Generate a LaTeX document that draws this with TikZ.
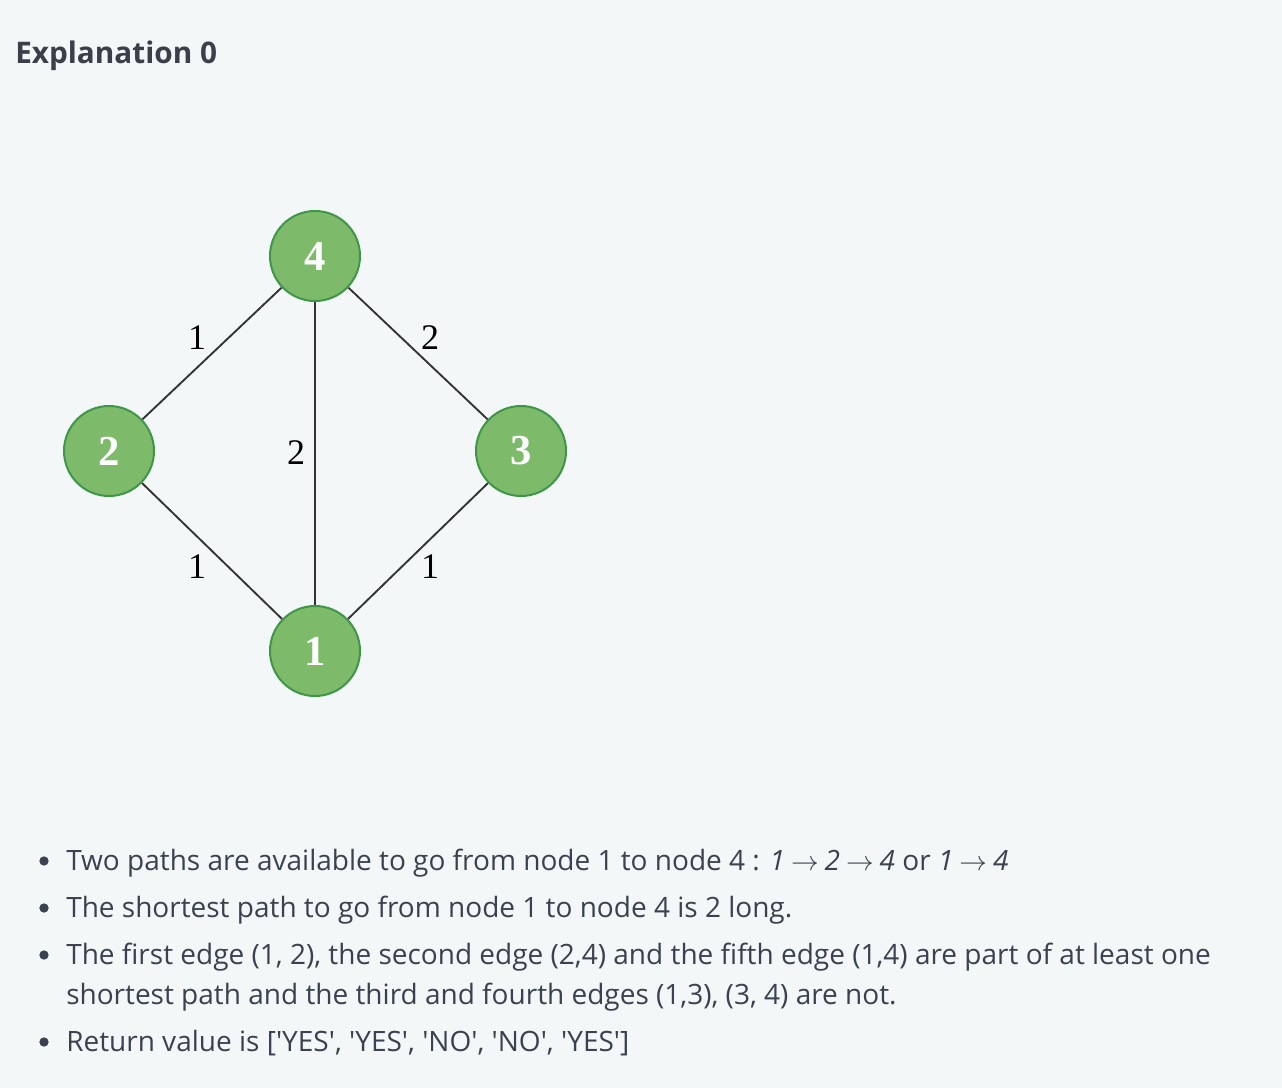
\documentclass[tikz,border=0pt]{standalone}
\usepackage{fontspec}
\setmainfont{Open Sans}
\newfontfamily\serifgraph{Liberation Serif}
\definecolor{bgc}{HTML}{F3F7F8}
\definecolor{titlec}{HTML}{3A3F4A}
\definecolor{txtc}{HTML}{39424E}
\definecolor{nodefill}{HTML}{7DBB6A}
\definecolor{nodedraw}{HTML}{3E9648}
\definecolor{edgec}{HTML}{333333}
\newcommand{\sq}{\textquotesingle}
\newcommand{\myarr}{\hspace{4.5pt}$\rightarrow$\hspace{4.5pt}}
\tikzset{
  gnode/.style={circle, minimum size=67.5pt, inner sep=0pt, fill=nodefill, draw=nodedraw, line width=1.5pt, text=white, font=\serifgraph\bfseries\fontsize{32}{32}\selectfont},
  gedge/.style={draw=edgec, line width=1.4pt},
  elabel/.style={text=black, font=\serifgraph\fontsize{27}{27}\selectfont, inner sep=0pt},
  bodytext/.style={anchor=base west, inner sep=0pt, text=txtc, font=\fontsize{21}{21}\selectfont},
  bulletdot/.style={circle, fill=txtc, inner sep=0pt, minimum size=7pt}
}
\begin{document}
\begin{tikzpicture}[x=0.75pt,y=-0.75pt]
\fill[bgc] (0,0) rectangle (1282,1088);
\useasboundingbox (0,0) rectangle (1282,1088);
\node[anchor=base west, inner sep=0pt, text=titlec, font=\bfseries\fontsize{22.3}{22.3}\selectfont] (title) at (15,64) {Explanation 0};
% graph
\node[gnode] (n4) at (315,256) {4};
\node[gnode] (n2) at (109,451) {2};
\node[gnode] (n3) at (521,451) {3};
\node[gnode] (n1) at (315,651) {1};
\draw[gedge] (n2) -- (n4);
\draw[gedge] (n4) -- (n3);
\draw[gedge] (n4) -- (n1);
\draw[gedge] (n2) -- (n1);
\draw[gedge] (n3) -- (n1);
\node[elabel] (l24) at (197,338) {1};
\node[elabel] (l43) at (430,338) {2};
\node[elabel] (l41) at (296,453) {2};
\node[elabel] (l21) at (197,567) {1};
\node[elabel] (l31) at (430,567) {1};
% bullets
\node[bulletdot] (b1) at (44,861) {};
\node[bulletdot] (b2) at (44,908) {};
\node[bulletdot] (b3) at (44,955) {};
\node[bulletdot] (b4) at (44,1042) {};
\node[bodytext] (t1) at (66,870) {Two paths are available to go from node 1 to node 4 : \textit{1}\myarr\textit{2}\myarr\textit{4} or \textit{1}\myarr\textit{4}};
\node[bodytext] (t2) at (66,917) {The shortest path to go from node 1 to node 4 is 2 long.};
\node[bodytext] (t3) at (66,964) {The first edge (1, 2), the second edge (2,4) and the fifth edge (1,4) are part of at least one};
\node[bodytext] (t3b) at (66,1004) {shortest path and the third and fourth edges (1,3), (3, 4) are not.};
\node[bodytext] (t4) at (66,1051) {Return value is [\sq YES\sq, \sq YES\sq, \sq NO\sq, \sq NO\sq, \sq YES\sq]};
\end{tikzpicture}
\end{document}
